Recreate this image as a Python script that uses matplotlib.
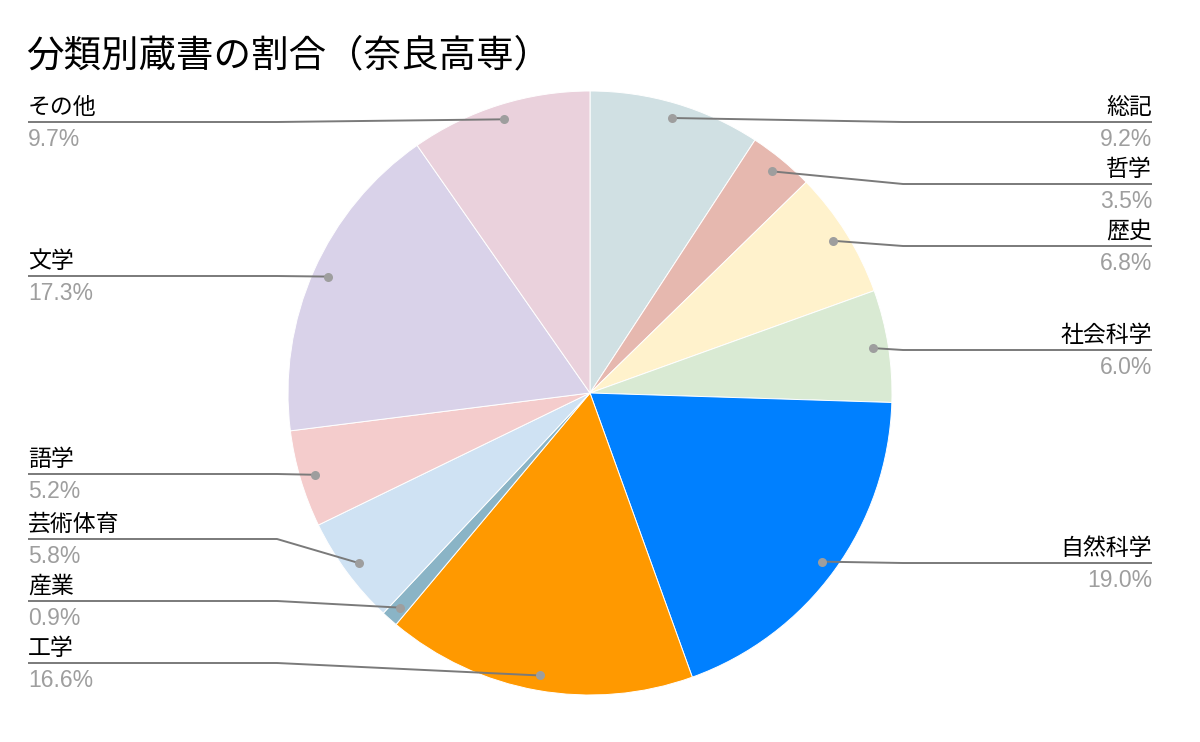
import numpy as np
import matplotlib
matplotlib.use("Agg")
import matplotlib.pyplot as plt

# data (clockwise from 12 o'clock)
categories = ["総記", "哲学", "歴史", "社会科学", "自然科学", "工学",
              "産業", "芸術体育", "語学", "文学", "その他"]
shares = [9.2, 3.5, 6.8, 6.0, 19.0, 16.6, 0.9, 5.8, 5.2, 17.3, 9.7]
colors = ["#d0e0e3", "#e6b8af", "#fff2cc", "#d9ead3", "#0080ff", "#ff9900",
          "#8ab4c6", "#cfe2f3", "#f4cccc", "#d9d2e9", "#ead1dc"]

# label rows (pixel y of the leader baseline, from top)
label_rows = [122, 184, 246, 350, 563, 663, 601, 539, 474, 276, 122]

W, H = 1200, 742
CX, CY, R = 590, 393, 302
JP = ["Noto Sans CJK JP", "DejaVu Sans"]
NUM = ["Liberation Sans", "DejaVu Sans"]

fig = plt.figure(figsize=(W / 100, H / 100), dpi=100)
ax = fig.add_axes([0, 0, 1, 1])


def fy(y):
    return H - y


ax.pie(shares, colors=colors, startangle=90, counterclock=False,
       center=(CX, fy(CY)), radius=R,
       wedgeprops=dict(edgecolor="white", linewidth=0.7))
ax.set_xlim(0, W)
ax.set_ylim(0, H)
ax.set_aspect("equal")
ax.axis("off")

fig.text(26 / W, 1 - 56 / H, "分類別蔵書の割合（奈良高専）", family=JP,
         fontsize=27, va="center", ha="left", color="#000000")

cum = np.cumsum([0] + shares[:-1])
for name, v, c0, ly in zip(categories, shares, cum, label_rows):
    ang = np.deg2rad(90 - 360 * (c0 + v / 2) / 100)
    px = CX + 0.95 * R * np.cos(ang)
    py = CY - 0.95 * R * np.sin(ang)
    if np.cos(ang) > 0:
        xs = [px, 903, 1152]
        tx, ha = 1152, "right"
    else:
        xs = [px, 277, 28]
        tx, ha = 28, "left"
    ax.plot(xs, [fy(py), fy(ly), fy(ly)], color="#7a7a7a", lw=1.4,
            solid_capstyle="butt", zorder=3)
    ax.plot([px], [fy(py)], "o", ms=6.5, color="#9e9e9e", mec="none", zorder=4)
    ax.text(tx, fy(ly - 3), name, family=JP, fontsize=16.5, ha=ha,
            va="bottom", color="#000000")
    ax.text(tx, fy(ly + 6), f"{v:.1f}%", family=NUM, fontsize=16.5, ha=ha,
            va="top", color="#9e9e9e")

fig.savefig("out.png", dpi=100)
